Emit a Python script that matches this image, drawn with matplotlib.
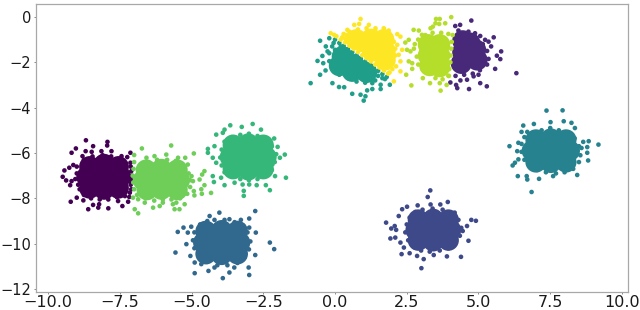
import numpy as np
import matplotlib
matplotlib.use("Agg")
import matplotlib.pyplot as plt

labels = [1, 2, 3, 4, 0, 7, 6, 5, 9, 8]

points_0 = [(-8.68,-5.44),(-7.93,-5.51),(-9.03,-5.8),(-8.43,-5.7),(-9.18,-5.99),(-7.94,-5.67),(-8.69,-5.92),(-8.48,-5.95),(-8.14,-5.92),(-7.79,-5.92),(-8.8,-6.14),(-7.44,-6.14),(-7.24,-6.18),(-7.13,-5.99),(-7.13,-6.43),(-9.12,-6.53),(-9.43,-6.77),(-9.26,-6.65),(-9.49,-7.05),(-9.37,-7.21),(-9.23,-7.42),(-9.18,-7.24),(-9.0,-7.97),(-9.21,-8.15),(-8.77,-8.09),(-8.6,-8.48),(-8.43,-8.29),(-8.22,-8.26),(-8.25,-8.41),(-7.9,-8.44),(-7.56,-8.12),(-7.41,-8.34),(-7.21,-8.15),(-7.17,-7.94),(-7.32,-7.9),(-7.13,-7.24),(-7.12,-6.6),(-7.1,-6.8),(-7.08,-7.0),(-7.1,-7.2),(-7.12,-7.4),(-7.1,-7.6),(-7.15,-7.75),(-9.0,-6.6),(-9.0,-6.9),(-9.05,-7.15),(-8.95,-7.4),(-8.9,-7.6),(-8.75,-7.85),(-8.5,-8.0),(-8.2,-8.05),(-7.9,-8.05),(-7.6,-7.95),(-8.75,-6.3),(-8.45,-6.15),(-8.1,-6.1),(-7.8,-6.15),(-7.5,-6.3),(-7.3,-6.45)]
core_0 = [(-8.65,-7.05),(-8.55,-6.6),(-8.05,-6.5),(-7.55,-6.6),(-8.05,-7.05),(-7.47,-7.05),(-8.55,-7.55),(-8.05,-7.6),(-7.55,-7.55)]

points_7 = [(-7.0,-6.09),(-6.73,-5.8),(-5.71,-5.67),(-4.92,-6.02),(-5.22,-6.21),(-6.57,-6.21),(-6.29,-6.14),(-5.88,-6.07),(-5.47,-6.21),(-5.13,-6.51),(-4.55,-6.8),(-4.63,-6.95),(-4.72,-7.17),(-5.0,-7.02),(-4.95,-7.24),(-4.55,-7.42),(-4.66,-7.6),(-4.64,-7.8),(-4.32,-7.76),(-4.92,-7.68),(-4.9,-7.87),(-5.24,-8.26),(-5.53,-8.19),(-5.65,-8.26),(-5.59,-8.48),(-5.42,-8.48),(-6.11,-8.34),(-6.34,-8.41),(-6.0,-8.19),(-6.63,-8.19),(-6.98,-8.48),(-6.86,-8.66),(-7.04,-7.97),(-6.86,-8.04),(-7.0,-6.4),(-7.02,-6.7),(-7.05,-7.0),(-7.03,-7.3),(-7.0,-7.6),(-6.9,-7.85),(-6.6,-8.0),(-6.3,-8.1),(-6.0,-8.05),(-5.7,-8.05),(-5.4,-8.0),(-5.15,-7.8),(-5.05,-7.5),(-5.05,-7.2),(-5.1,-6.9),(-5.3,-6.55),(-5.55,-6.35),(-5.85,-6.3),(-6.2,-6.3),(-6.5,-6.4),(-6.75,-6.5)]
core_7 = [(-6.68,-7.2),(-6.58,-6.75),(-6.05,-6.72),(-5.5,-6.75),(-6.05,-7.2),(-5.42,-7.2),(-6.55,-7.62),(-6.05,-7.6),(-5.5,-7.62)]

points_6 = [(-2.87,-4.72),(-3.65,-4.78),(-3.85,-4.97),(-3.91,-5.11),(-3.25,-4.85),(-2.58,-4.97),(-4.14,-5.19),(-2.12,-5.36),(-4.43,-5.82),(-4.43,-5.99),(-4.26,-6.21),(-4.2,-5.7),(-4.14,-6.43),(-4.26,-7.02),(-4.22,-7.28),(-3.97,-7.09),(-3.85,-7.42),(-3.5,-7.31),(-3.22,-7.39),(-3.18,-7.67),(-3.18,-7.89),(-2.99,-7.39),(-2.73,-7.42),(-2.41,-7.42),(-2.27,-7.64),(-1.71,-7.09),(-2.09,-7.02),(-1.75,-6.07),(-2.0,-5.73),(-1.92,-6.21),(-2.18,-6.5),(-3.85,-5.5),(-3.95,-5.85),(-4.0,-6.2),(-3.95,-6.55),(-3.85,-6.85),(-3.6,-7.05),(-3.3,-7.15),(-3.0,-7.2),(-2.7,-7.15),(-2.4,-7.0),(-2.2,-6.75),(-2.1,-6.4),(-2.05,-6.05),(-2.2,-5.7),(-2.4,-5.4),(-2.7,-5.25),(-3.0,-5.15),(-3.3,-5.2),(-3.6,-5.3)]
core_6 = [(-3.65,-6.18),(-3.55,-5.65),(-3.02,-5.6),(-2.5,-5.65),(-3.02,-6.18),(-2.4,-6.18),(-3.55,-6.7),(-3.02,-6.75),(-2.5,-6.7)]

points_3 = [(-4.03,-8.63),(-2.78,-8.56),(-4.37,-8.78),(-2.99,-8.89),(-5.48,-9.48),(-5.28,-9.29),(-5.13,-9.51),(-5.01,-9.25),(-5.18,-10.02),(-5.56,-10.39),(-5.04,-10.54),(-4.89,-10.83),(-4.89,-11.3),(-4.66,-10.9),(-4.41,-11.2),(-3.91,-11.52),(-4.2,-11.05),(-3.68,-11.27),(-3.51,-11.05),(-2.99,-11.38),(-3.01,-11.05),(-2.78,-10.5),(-2.76,-9.51),(-2.27,-9.95),(-2.12,-10.24),(-2.99,-9.29),(-3.28,-8.95),(-3.68,-8.92),(-4.7,-9.15),(-4.9,-9.5),(-4.95,-9.85),(-4.9,-10.2),(-4.7,-10.55),(-4.45,-10.8),(-4.1,-10.95),(-3.75,-10.95),(-3.4,-10.85),(-3.15,-10.6),(-3.0,-10.25),(-2.95,-9.9),(-3.05,-9.5),(-3.2,-9.2),(-3.5,-9.05),(-3.85,-8.95),(-4.2,-8.95),(-4.45,-9.0)]
core_3 = [(-4.58,-9.95),(-4.5,-9.45),(-3.95,-9.42),(-3.4,-9.45),(-3.95,-9.95),(-3.32,-9.95),(-4.5,-10.45),(-3.95,-10.48),(-3.4,-10.45)]

points_2 = [(3.32,-7.65),(3.23,-7.94),(3.93,-8.16),(3.67,-8.27),(3.33,-8.27),(2.88,-8.31),(2.51,-8.37),(2.34,-8.48),(2.22,-8.78),(1.78,-9.07),(2.08,-9.22),(1.96,-9.33),(2.13,-9.39),(1.93,-9.77),(2.1,-9.73),(2.28,-9.95),(2.4,-10.17),(2.32,-10.46),(2.6,-10.42),(2.86,-10.54),(3.09,-10.68),(3.01,-11.08),(3.44,-10.5),(3.9,-10.56),(4.39,-10.58),(4.65,-9.87),(4.91,-8.99),(4.75,-8.95),(4.6,-9.22),(4.45,-9.44),(4.17,-8.63),(2.6,-8.85),(2.5,-9.15),(2.45,-9.5),(2.55,-9.85),(2.75,-10.15),(3.0,-10.3),(3.3,-10.35),(3.65,-10.3),(3.95,-10.2),(4.2,-9.95),(4.35,-9.65),(4.4,-9.3),(4.3,-8.95),(4.05,-8.7),(3.75,-8.5),(3.4,-8.45),(3.05,-8.5),(2.8,-8.6)]
core_2 = [(2.82,-9.4),(2.9,-8.95),(3.42,-8.92),(3.95,-8.95),(3.42,-9.4),(4.03,-9.4),(2.9,-9.85),(3.42,-9.88),(3.95,-9.85)]

points_4 = [(7.37,-4.13),(7.93,-4.12),(7.51,-4.64),(7.97,-4.6),(8.24,-4.67),(8.36,-4.9),(6.56,-4.79),(6.5,-5.07),(6.7,-5.07),(6.93,-4.72),(6.08,-5.7),(6.39,-5.55),(6.35,-5.92),(6.39,-6.28),(6.27,-6.43),(6.19,-6.55),(6.37,-7.02),(6.68,-7.02),(6.7,-7.17),(7.11,-7.14),(6.85,-7.72),(7.6,-7.02),(8.44,-6.97),(8.82,-6.33),(8.79,-5.99),(8.79,-5.74),(9.18,-5.63),(8.84,-5.48),(8.65,-5.51),(8.59,-5.78),(6.6,-5.3),(6.5,-5.6),(6.5,-5.95),(6.6,-6.3),(6.8,-6.55),(7.05,-6.75),(7.35,-6.85),(7.7,-6.9),(8.0,-6.85),(8.3,-6.7),(8.5,-6.4),(8.55,-6.1),(8.5,-5.7),(8.35,-5.35),(8.1,-5.1),(7.8,-5.0),(7.5,-4.9),(7.2,-5.0),(6.9,-5.1)]
core_4 = [(6.87,-5.9),(7.0,-5.42),(7.52,-5.38),(8.05,-5.42),(7.52,-5.9),(8.17,-5.9),(7.0,-6.4),(7.52,-6.42),(8.05,-6.4)]

points_5 = [(-0.85,-2.92),(-0.52,-1.05),(-0.61,-1.94),(-0.41,-2.04),(-0.32,-1.3),(-0.26,-1.52),(-0.44,-1.72),(-0.2,-0.94),(-0.33,-2.36),(-0.52,-2.55),(-0.09,-2.92),(0.14,-3.09),(0.32,-3.1),(0.6,-3.39),(0.89,-3.43),(1.0,-3.69),(1.06,-3.5),(1.12,-3.24),(1.3,-3.18),(1.59,-3.18),(1.59,-2.99),(1.91,-2.99),(1.74,-2.74),(1.3,-2.92),(-0.1,-1.3),(-0.2,-1.6),(-0.2,-1.95),(-0.05,-2.3),(0.15,-2.55),(0.45,-2.7),(0.75,-2.85),(1.05,-2.9),(1.4,-2.8),(1.65,-2.7),(0.0,-1.0),(0.15,-1.15),(0.3,-1.28),(0.45,-1.42),(0.6,-1.56),(0.75,-1.7),(0.9,-1.84),(1.05,-1.97),(1.2,-2.11),(1.35,-2.25),(1.5,-2.38),(1.65,-2.52),(1.8,-2.65),(-0.05,-1.15),(0.0,-1.45),(0.2,-1.3),(0.4,-1.6),(0.7,-1.95),(1.0,-2.2),(1.3,-2.45),(1.5,-2.6)]
core_5 = [(0.25,-1.75),(0.15,-2.15),(0.65,-2.1),(0.6,-2.4),(1.1,-2.45)]

points_9 = [(0.89,-0.09),(0.84,-0.31),(0.67,-0.35),(1.18,-0.35),(1.41,-0.5),(1.7,-0.5),(1.87,-0.6),(2.17,-0.76),(2.28,-0.87),(1.99,-1.01),(2.17,-1.23),(2.34,-1.45),(2.22,-1.67),(2.28,-1.96),(2.13,-2.18),(2.28,-2.4),(2.05,-2.84),(0.43,-0.57),(-0.03,-0.79),(-0.15,-0.72),(0.05,-0.85),(0.2,-1.0),(0.35,-1.13),(0.5,-1.27),(0.65,-1.41),(0.8,-1.55),(0.95,-1.69),(1.1,-1.82),(1.25,-1.96),(1.4,-2.1),(1.55,-2.23),(1.7,-2.37),(1.85,-2.5),(0.3,-0.75),(0.5,-0.65),(0.8,-0.55),(1.1,-0.5),(1.4,-0.6),(1.7,-0.65),(1.95,-0.85),(2.05,-1.1),(2.1,-1.4),(2.1,-1.7),(2.0,-2.0),(2.0,-2.3),(1.9,-2.45),(0.4,-1.0),(0.25,-0.9),(0.35,-0.95),(0.5,-1.1),(0.55,-0.8),(0.7,-1.25),(0.9,-1.45),(1.1,-1.65),(1.3,-1.85),(1.5,-2.05),(1.65,-2.2),(0.4,-0.8),(0.6,-0.95),(0.85,-1.25),(1.0,-1.45),(1.2,-1.65),(1.4,-1.85),(1.6,-2.0)]
core_9 = [(0.75,-1.0),(1.25,-0.98),(1.7,-1.0),(1.3,-1.5),(1.75,-1.5),(1.75,-1.9)]

points_1 = [(4.75,-0.16),(4.19,-0.4),(4.36,-0.35),(4.65,-0.65),(4.88,-0.72),(5.06,-0.84),(5.35,-1.09),(5.53,-0.9),(5.23,-1.01),(5.44,-1.3),(5.79,-1.52),(5.64,-1.71),(5.76,-1.86),(5.58,-2.29),(6.32,-2.48),(5.29,-3.06),(5.06,-2.92),(4.67,-3.18),(4.26,-3.14),(4.22,-3.0),(4.37,-2.8),(4.6,-2.77),(4.83,-2.62),(5.0,-2.55),(4.02,-2.89),(4.3,-0.6),(4.6,-0.8),(4.9,-0.95),(5.15,-1.2),(5.3,-1.5),(5.35,-1.85),(5.3,-2.1),(5.05,-2.35),(4.8,-2.5),(4.5,-2.55),(4.2,-2.6)]
core_1 = [(4.45,-1.05),(4.7,-1.15),(4.9,-1.45),(4.45,-1.55),(4.95,-1.9),(4.4,-2.05)]

points_8 = [(4.05,-0.01),(3.52,-0.09),(3.65,-0.09),(3.5,-0.28),(3.41,-0.43),(3.63,-0.31),(3.84,-0.28),(3.33,-0.5),(2.74,-0.57),(2.92,-0.6),(3.03,-0.79),(2.57,-1.01),(2.45,-1.13),(2.78,-1.2),(2.51,-1.45),(2.63,-1.52),(2.57,-1.96),(2.69,-2.04),(2.48,-2.55),(2.69,-2.29),(3.06,-2.7),(2.66,-3.02),(3.31,-2.92),(3.65,-2.92),(3.68,-3.25),(3.89,-3.0),(3.15,-0.8),(3.4,-0.7),(3.7,-0.7),(3.95,-0.75),(2.9,-1.0),(2.75,-1.4),(2.85,-1.75),(2.9,-2.1),(3.05,-2.3),(3.3,-2.45),(3.5,-2.7),(3.75,-2.75),(3.95,-2.6),(4.1,-0.8),(4.07,-1.1),(4.05,-1.4),(4.03,-1.7),(4.02,-2.0),(3.98,-2.3),(3.97,-2.6)]
core_8 = [(3.25,-1.22),(3.65,-1.22),(3.25,-1.7),(3.65,-1.7),(3.3,-2.15),(3.65,-2.2)]

x_ticks = [-10.0, -7.5, -5.0, -2.5, 0.0, 2.5, 5.0, 7.5, 10.0]
y_ticks = [0, -2, -4, -6, -8, -10, -12]

points = {0: points_0, 1: points_1, 2: points_2, 3: points_3, 4: points_4,
          5: points_5, 6: points_6, 7: points_7, 8: points_8, 9: points_9}
cores = {0: core_0, 1: core_1, 2: core_2, 3: core_3, 4: core_4,
         5: core_5, 6: core_6, 7: core_7, 8: core_8, 9: core_9}

W, H = 640, 310
fig = plt.figure(figsize=(W / 100, H / 100), dpi=100)
ax = fig.add_axes([36 / W, 1 - 292 / H, (628 - 36) / W, (292 - 4) / H])

for k in labels:
    for pts, size in ((cores[k], 230), (points[k], 11)):
        arr = np.array(pts)
        ax.scatter(arr[:, 0], arr[:, 1], c=[k] * len(arr), cmap="viridis",
                   vmin=0, vmax=9, s=size, linewidths=0)

ax.set_xlim(-10.42, 10.21)
ax.set_ylim(-12.13, 0.57)
ax.set_xticks(x_ticks)
ax.set_yticks(y_ticks)
ax.tick_params(length=1.5, width=0.6, color="#777777", labelcolor="#1a1a1a")
ax.tick_params(axis="x", pad=1, labelsize=11.5)
ax.tick_params(axis="y", pad=2, labelsize=10.5)
for spine in ax.spines.values():
    spine.set_linewidth(0.9)
    spine.set_color("#a8a8a8")

fig.savefig("out.png", dpi=100)
